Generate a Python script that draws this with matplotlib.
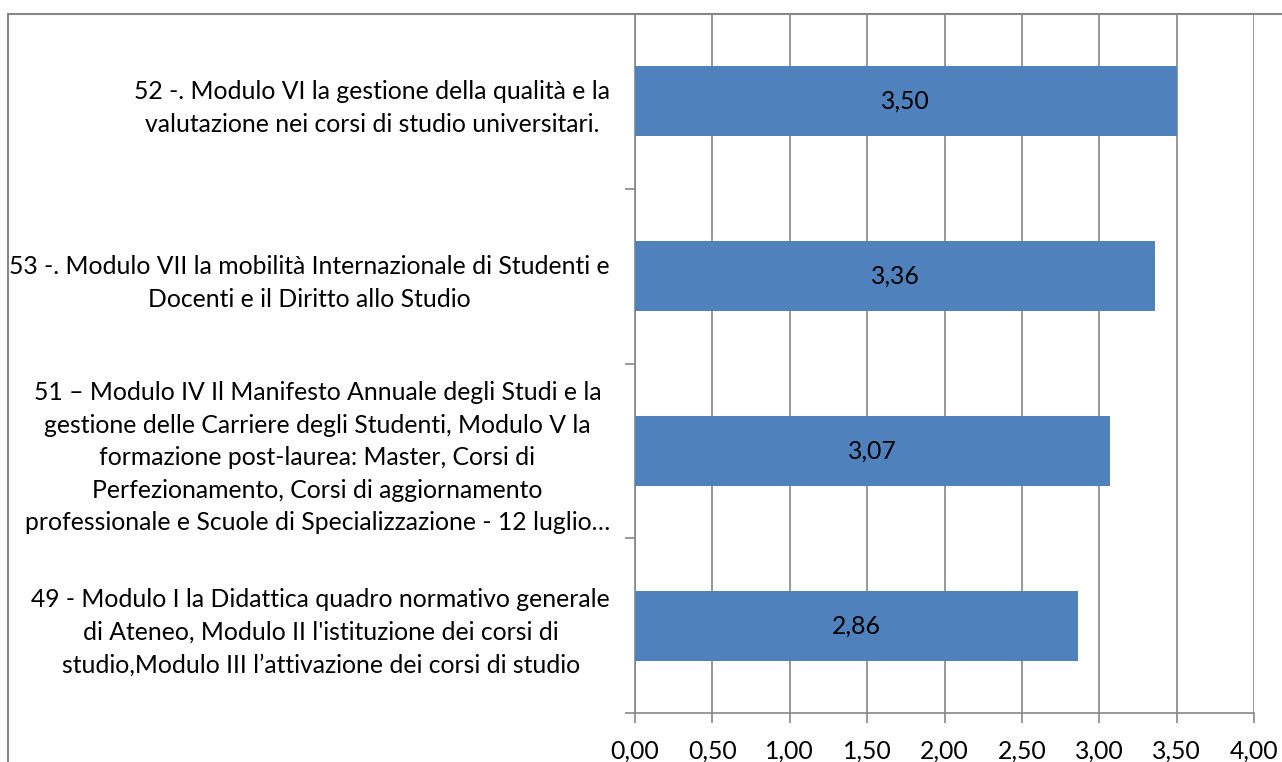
import matplotlib
matplotlib.use("Agg")
import matplotlib.pyplot as plt
from matplotlib.patches import Rectangle

categories = [
    "49 - Modulo I la Didattica quadro normativo generale\ndi Ateneo, Modulo II l'istituzione dei corsi di\nstudio,Modulo III l\u2019attivazione dei corsi di studio",
    "51 \u2013 Modulo IV Il Manifesto Annuale degli Studi e la\ngestione delle Carriere degli Studenti, Modulo V la\nformazione post-laurea: Master, Corsi di\nPerfezionamento, Corsi di aggiornamento\nprofessionale e Scuole di Specializzazione - 12 luglio\u2026",
    "53 -. Modulo VII la mobilit\u00e0 Internazionale di Studenti e\nDocenti e il Diritto allo Studio",
    "52 -. Modulo VI la gestione della qualit\u00e0 e la\nvalutazione nei corsi di studio universitari.",
]
values = [2.86, 3.07, 3.36, 3.50]
x_ticks = [0.0, 0.5, 1.0, 1.5, 2.0, 2.5, 3.0, 3.5, 4.0]

W, H = 1282, 762
fig = plt.figure(figsize=(W / 100, H / 100), dpi=100)
plt.rcParams['font.family'] = ['Lato', 'DejaVu Sans']

gray = '#868686'
bar_color = '#4f81bd'
fs = 17.8

# chart frame (extends beyond the image at right and bottom)
fig.patches.append(Rectangle((8 / W, -0.1), 1.2, 1 - 14 / H + 0.1, transform=fig.transFigure,
                             fill=False, edgecolor=gray, linewidth=1.5))

left, right = 635 / W, 1254 / W
bottom, top = 1 - 713 / H, 1 - 14 / H
ax = fig.add_axes([left, bottom, right - left, top - bottom])

y = list(range(len(categories)))
bars = ax.barh(y, values, height=0.4, color=bar_color, zorder=3)
for rect, v in zip(bars, values):
    ax.text(v / 2, rect.get_y() + rect.get_height() / 2, f"{v:.2f}".replace('.', ','),
            ha='center', va='center', fontsize=fs, color='black', zorder=4)

ax.set_xlim(0, 4)
ax.set_ylim(-0.5, len(categories) - 0.5)
ax.set_xticks(x_ticks)
ax.set_xticklabels([f"{t:.2f}".replace('.', ',') for t in x_ticks], fontsize=fs)
ax.xaxis.grid(True, color=gray, linewidth=1.2, zorder=0)
ax.tick_params(axis='x', length=7, width=1.2, color=gray, pad=12, direction='out')

ax.set_yticks([i - 0.5 for i in range(len(categories) + 1)])
ax.set_yticklabels([])
ax.set_yticks(y, minor=True)
ax.set_yticklabels(categories, minor=True, fontsize=fs, multialignment='center')
ax.tick_params(axis='y', which='major', length=7, width=1.2, color=gray)
ax.tick_params(axis='y', which='minor', length=0, pad=18)
for t in ax.get_yticklabels(minor=True):
    t.set_linespacing(1.5)

for s in ['top', 'right']:
    ax.spines[s].set_visible(False)
for s in ['left', 'bottom']:
    ax.spines[s].set_color(gray)
    ax.spines[s].set_linewidth(1.2)

fig.savefig('out.png', dpi=100)
